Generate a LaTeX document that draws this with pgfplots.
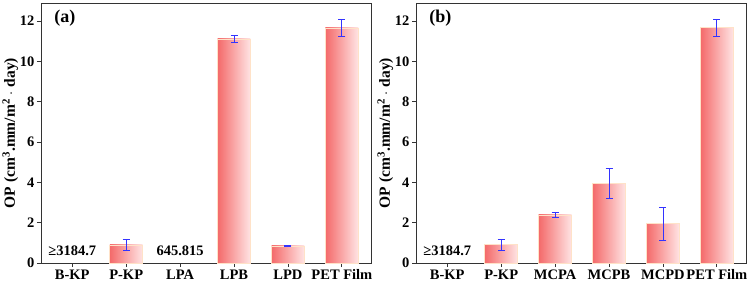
\documentclass[border=0pt]{standalone}
\usepackage{pgfplots}
\pgfplotsset{compat=1.18}
\usepackage{fontspec}
\setmainfont{Liberation Serif}
\definecolor{barL}{HTML}{F46A6A}
\definecolor{barR}{HTML}{FFE4E4}
\definecolor{barE}{HTML}{FFE2C8}
\begin{document}
\begin{tikzpicture}[x=1pt,y=1pt]
\useasboundingbox (0,0) rectangle (750,285);
\pgfplotsset{
  myax/.style={
    scale only axis, width=330pt, height=260pt,
    xmin=-0.58, xmax=5.54, ymin=0, ymax=12.9,
    xtick={0,1,2,3,4,5},
    ytick={0,2,4,6,8,10,12},
    axis line style={draw=black!80, line width=0.8pt},
    tick style={draw=black!80, line width=0.8pt},
    major tick length=4pt,
    tick align=outside,
    xtick pos=bottom, ytick pos=left,
    ticklabel style={font=\fontsize{14.5}{16}\selectfont\bfseries},
    /pgf/number format/assume math mode=true,
    ylabel={\textbf{OP (cm\textsuperscript{3}.mm/m\textsuperscript{2} $\cdot$ day)}},
    ylabel style={font=\fontsize{15.5}{17}\selectfont\bfseries, yshift=-5pt},
    xticklabel style={yshift=1pt},
    yticklabel style={xshift=1pt},
    ybar, bar width=0.61, bar shift=0pt,
  },
  mybar/.style={draw=barE, line width=0.6pt, left color=barL, right color=barR,
    error bars/.cd, y dir=both, y explicit,
    error bar style={draw=blue!80!white, line width=0.8pt},
    error mark options={draw=blue!80!white, line width=0.8pt, mark size=3.5pt, rotate=90}},
}
\begin{axis}[myax, at={(41pt,22pt)}, anchor=south west,
  xticklabels={B-KP,P-KP,LPA,LPB,LPD,PET Film}]
\addplot[mybar] coordinates {(1,0.90) +- (0,0.28)};
\addplot[mybar] coordinates {(3,11.12) +- (0,0.17)};
\addplot[mybar] coordinates {(4,0.85) +- (0,0.03)};
\addplot[mybar] coordinates {(5,11.66) +- (0,0.42)};
\node[font=\fontsize{14.5}{16}\selectfont\bfseries] at (axis cs:0,0.62) {≥3184.7};
\node[font=\fontsize{14.5}{16}\selectfont\bfseries] at (axis cs:2,0.62) {645.815};
\node[font=\fontsize{18}{20}\selectfont\bfseries, anchor=north west] at (rel axis cs:0.03,0.985) {(a)};
\end{axis}
\begin{axis}[myax, at={(416pt,22pt)}, anchor=south west,
  xticklabels={B-KP,P-KP,MCPA,MCPB,MCPD,PET Film}]
\addplot[mybar] coordinates {(1,0.92) +- (0,0.27)};
\addplot[mybar] coordinates {(2,2.39) +- (0,0.13)};
\addplot[mybar] coordinates {(3,3.95) +- (0,0.73)};
\addplot[mybar] coordinates {(4,1.95) +- (0,0.82)};
\addplot[mybar] coordinates {(5,11.67) +- (0,0.41)};
\node[font=\fontsize{14.5}{16}\selectfont\bfseries] at (axis cs:0,0.62) {≥3184.7};
\node[font=\fontsize{18}{20}\selectfont\bfseries, anchor=north west] at (rel axis cs:0.03,0.985) {(b)};
\end{axis}
\end{tikzpicture}
\end{document}
